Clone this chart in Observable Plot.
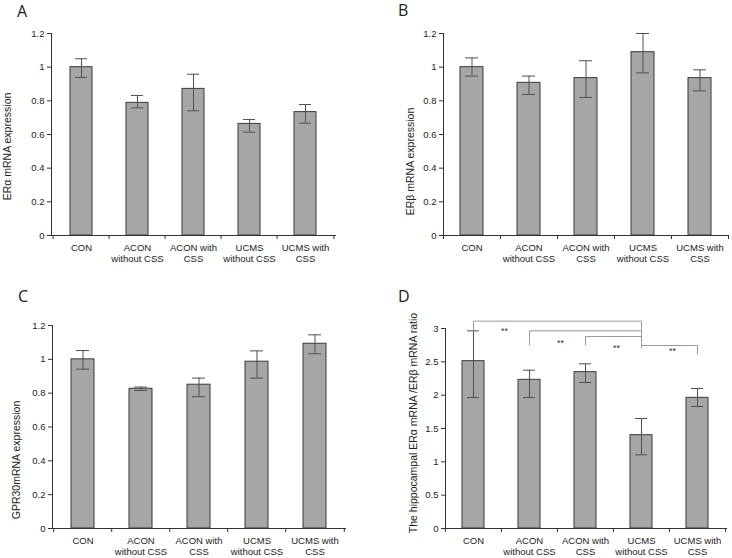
<!DOCTYPE html>
<html><head><meta charset="utf-8">
<script src="https://cdn.jsdelivr.net/npm/d3@7"></script>
<script src="https://cdn.jsdelivr.net/npm/@observablehq/plot@0.6"></script>
<style>
body{margin:0;background:#fff;}
#wrap{position:relative;width:732px;height:558px;overflow:hidden;background:#fff;}
.panel{position:absolute;}
.panel svg, .panel svg text{font-family:"Liberation Sans", Arial, sans-serif !important;}
.letter{position:absolute;font-family:"Open Sans",sans-serif;font-size:16px;color:#222;line-height:1;}
</style></head><body><div id="wrap"></div>
<script>
const groups = ["CON", "ACON without CSS", "ACON with CSS", "UCMS without CSS", "UCMS with CSS"];
const groupLabels = ["CON", "ACON\nwithout CSS", "ACON with\nCSS", "UCMS\nwithout CSS", "UCMS with\nCSS"];

// Panel A: ERα
const eraMean = [1.0, 0.788, 0.871, 0.663, 0.733];
const eraLow  = [0.939, 0.758, 0.741, 0.614, 0.667];
const eraHigh = [1.05, 0.832, 0.958, 0.689, 0.778];
// Panel B: ERβ
const erbMean = [1.0, 0.907, 0.935, 1.089, 0.935];
const erbLow  = [0.947, 0.838, 0.82, 0.966, 0.859];
const erbHigh = [1.055, 0.947, 1.038, 1.2, 0.984];
// Panel C: GPR30
const gprMean = [1.0, 0.826, 0.85, 0.986, 1.092];
const gprLow  = [0.942, 0.816, 0.779, 0.889, 1.033];
const gprHigh = [1.052, 0.836, 0.889, 1.05, 1.145];
// Panel D: ERα/ERβ ratio
const ratioMean = [2.51, 2.23, 2.345, 1.4, 1.96];
const ratioLow  = [1.965, 1.965, 2.19, 1.105, 1.83];
const ratioHigh = [2.965, 2.375, 2.47, 1.65, 2.1];

const expTicks = [0, 0.2, 0.4, 0.6, 0.8, 1, 1.2];
const ratioTicks = [0, 0.5, 1, 1.5, 2, 2.5, 3];

// significance brackets (panel D)
const bracketFrom  = ["CON", "ACON without CSS", "ACON with CSS", "UCMS without CSS"];
const bracketTo    = ["UCMS without CSS", "UCMS without CSS", "UCMS without CSS", "UCMS with CSS"];
const bracketLevel = [3.11, 2.965, 2.88, 2.745];
const dropAt     = ["CON", "ACON without CSS", "ACON with CSS", "UCMS without CSS", "UCMS with CSS"];
const dropTop    = [3.11, 2.965, 2.88, 3.11, 2.745];
const dropBottom = [2.97, 2.75, 2.75, 2.70, 2.61];
const starAt = ["CON", "ACON without CSS", "ACON with CSS", "UCMS without CSS"];
const starY  = [2.99, 2.805, 2.74, 2.69];

const fmt = d3.format("~g");

function panel(o) {
  const data = groups.map((g, i) => ({g, m: o.mean[i], lo: o.low[i], hi: o.high[i]}));
  const step = (o.width - o.ml - o.mr) / groups.length;
  const marks = [
    Plot.barY(data, {x: "g", y: "m", fill: "#a6a6a6", stroke: "#3a3a3a", strokeWidth: 1}),
    Plot.ruleX(data, {x: "g", y1: "lo", y2: "hi", stroke: "#505050", strokeWidth: 1}),
    Plot.tickY(data, {x: "g", y: "lo", stroke: "#505050", strokeWidth: 1, insetLeft: 5, insetRight: 5}),
    Plot.tickY(data, {x: "g", y: "hi", stroke: "#505050", strokeWidth: 1, insetLeft: 5, insetRight: 5}),
    Plot.frame({anchor: "left", stroke: "#333"}),
    Plot.frame({anchor: "bottom", stroke: "#333"}),
    Plot.axisY({ticks: o.ticks, tickFormat: fmt, tickSize: 4, tickPadding: 3, fontSize: 9.5, stroke: "#333", label: null}),
    Plot.axisX({tickSize: 0, tickPadding: 7, tickFormat: d => groupLabels[groups.indexOf(d)], fontSize: 9.5, lineHeight: 1.2, label: null}),
    Plot.axisX({tickSize: 4, tickFormat: () => "", dx: -step / 2, stroke: "#333", label: null}),
    Plot.axisX({ticks: [groups[groups.length - 1]], tickSize: 4, tickFormat: () => "", dx: step / 2, stroke: "#333", label: null}),
    Plot.text([o.title], {frameAnchor: "left", rotate: -90, textAnchor: "middle", lineAnchor: "middle",
      dx: o.tdx, dy: o.tdy, fontSize: 10.5, fill: "#222"})
  ];
  if (o.extra) marks.push(...o.extra(step));
  return Plot.plot({
    width: o.width, height: o.height,
    marginLeft: o.ml, marginRight: o.mr, marginTop: o.mt, marginBottom: o.mb,
    style: {fontFamily: "Liberation Sans, Arial, sans-serif", color: "#222", background: "white", overflow: "visible"},
    x: {domain: groups, paddingInner: 0.6, paddingOuter: 0.3, axis: null, label: null},
    y: {domain: [o.ticks[0], o.ticks[o.ticks.length - 1]], axis: null, label: null},
    marks
  });
}

const bracketMarks = (step) => {
  const hz = bracketFrom.map((f, i) => ({f, t: bracketTo[i], y: bracketLevel[i]}));
  const dr = dropAt.map((a, i) => ({a, y1: dropTop[i], y2: dropBottom[i]}));
  const st = starAt.map((a, i) => ({a, y: starY[i]}));
  return [
    Plot.link(hz, {x1: "f", x2: "t", y1: "y", y2: "y", stroke: "#999", strokeWidth: 1}),
    Plot.link(dr, {x1: "a", x2: "a", y1: "y1", y2: "y2", stroke: "#999", strokeWidth: 1}),
    Plot.text(st, {x: "a", y: "y", text: () => "**", dx: step / 2 + 3, dy: 2, fontSize: 9, fill: "#333"})
  ];
};

const specs = [
  {left: 0, top: 0, width: 366, height: 280, ml: 51, mr: 31, mt: 33, mb: 45, mean: eraMean, low: eraLow, high: eraHigh,
   ticks: expTicks, title: "ERα mRNA expression", tdx: -43.5, tdy: 12, letter: "A", lx: 17, ly: 3},
  {left: 366, top: 0, width: 366, height: 280, ml: 77, mr: 4, mt: 33, mb: 45, mean: erbMean, low: erbLow, high: erbHigh,
   ticks: expTicks, title: "ERβ mRNA expression", tdx: -33, tdy: 27, letter: "B", lx: 398, ly: 2},
  {left: 0, top: 280, width: 366, height: 278, ml: 52, mr: 21, mt: 45, mb: 30, mean: gprMean, low: gprLow, high: gprHigh,
   ticks: expTicks, title: "GPR30mRNA expression", tdx: -36, tdy: 33, letter: "C", lx: 18, ly: 288},
  {left: 366, top: 280, width: 366, height: 278, ml: 79, mr: 6, mt: 48, mb: 30, mean: ratioMean, low: ratioLow, high: ratioHigh,
   ticks: ratioTicks, title: "The hippocampal ERα mRNA /ERβ mRNA ratio", tdx: -31.5, tdy: -5.5, letter: "D", lx: 398, ly: 288,
   extra: bracketMarks}
];

const wrap = document.getElementById("wrap");
for (const s of specs) {
  const div = document.createElement("div");
  div.className = "panel";
  div.style.left = s.left + "px";
  div.style.top = s.top + "px";
  div.appendChild(panel(s));
  wrap.appendChild(div);
  const l = document.createElement("div");
  l.className = "letter";
  l.style.left = s.lx + "px";
  l.style.top = s.ly + "px";
  l.textContent = s.letter;
  wrap.appendChild(l);
}
</script></body></html>
